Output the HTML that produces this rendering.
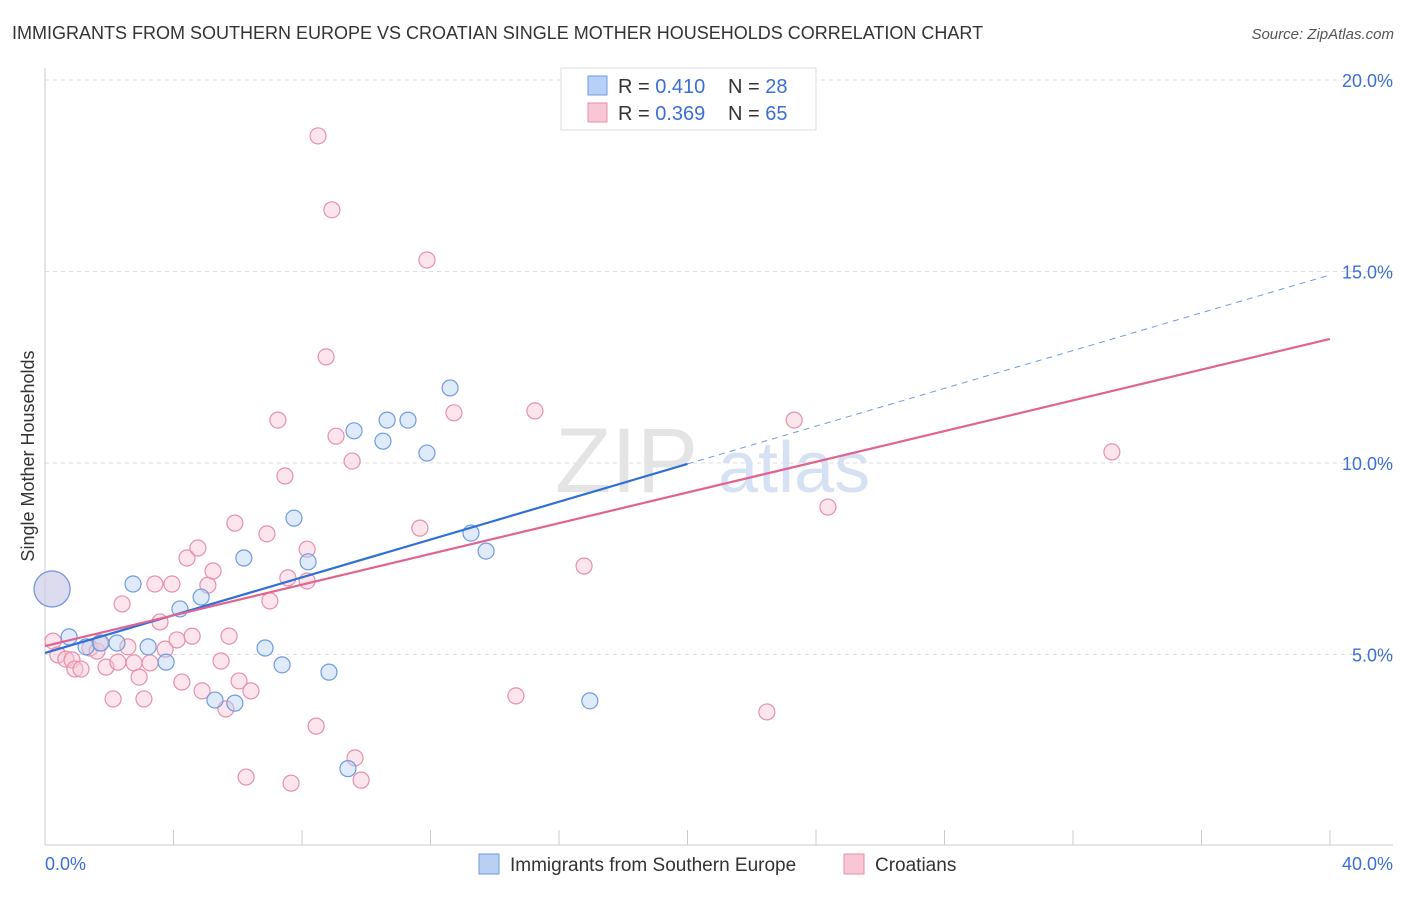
<!DOCTYPE html>
<html><head><meta charset="utf-8"><style>
body{margin:0;background:#fff;font-family:"Liberation Sans",sans-serif;}
svg text{font-family:"Liberation Sans",sans-serif;}
</style></head><body>
<svg id="c" width="1406" height="892" viewBox="0 0 1406 892" xmlns="http://www.w3.org/2000/svg">
<text x="12" y="39" font-size="18" fill="#333">IMMIGRANTS FROM SOUTHERN EUROPE VS CROATIAN SINGLE MOTHER HOUSEHOLDS CORRELATION CHART</text>
<text x="1394" y="39" font-size="15" fill="#555" font-style="italic" text-anchor="end">Source: ZipAtlas.com</text>
<g id="grid"></g>
<g><text x="555" y="492" font-size="92" fill="#e4e4e4" font-family="Liberation Serif">ZIP</text><text x="718" y="492" font-size="72" fill="#d6e2f3">atlas</text></g>
<line x1="45" y1="68" x2="45" y2="845" stroke="#ccc"/>
<line x1="45" y1="845" x2="1393" y2="845" stroke="#ccc"/>
<g id="xticks"></g>
<g id="yticks"></g>
<text x="45" y="870" font-size="18" fill="#3b6fd4">0.0%</text>
<text x="1393" y="870" font-size="18" fill="#3b6fd4" text-anchor="end">40.0%</text>
<text transform="translate(34,456) rotate(-90)" font-size="18" fill="#333" text-anchor="middle">Single Mother Households</text>
<g id="pts"></g>
<g id="lines"></g>
<g>
<rect x="561" y="68" width="255" height="62" fill="#fff" stroke="#ddd"/>
<rect x="588" y="76" width="19" height="19" fill="#b8d0f5" stroke="#6f9be0"/>
<rect x="588" y="103" width="19" height="19" fill="#f9c6d5" stroke="#e88fab"/>
<text x="618" y="93" font-size="20" fill="#333">R = <tspan fill="#3b6fd4">0.410</tspan><tspan x="728">N = </tspan><tspan fill="#3b6fd4">28</tspan></text>
<text x="618" y="120" font-size="20" fill="#333">R = <tspan fill="#3b6fd4">0.369</tspan><tspan x="728">N = </tspan><tspan fill="#3b6fd4">65</tspan></text>
</g>
<g>
<rect x="479" y="854" width="20" height="20" fill="#b8d0f5" stroke="#6f9be0"/>
<text x="510" y="871" font-size="19" fill="#333">Immigrants from Southern Europe</text>
<rect x="844" y="854" width="20" height="20" fill="#f9c6d5" stroke="#e88fab"/>
<text x="875" y="871" font-size="19" fill="#333">Croatians</text>
</g>
</svg>
<script>
const yTicks=[5,10,15,20];
const xTickVals=[0,4,8,12,16,20,24,28,32,36,40];
const blueX=[0.22,0.75,1.28,1.74,2.24,2.74,3.21,3.77,4.20,4.86,5.29,5.91,6.19,6.85,7.38,7.75,8.19,8.84,9.43,9.62,10.52,10.65,11.30,11.89,12.61,13.26,13.73,16.96];
const blueY=[6.71,5.46,5.20,5.30,5.30,6.84,5.20,4.80,6.19,6.50,3.81,3.73,7.52,5.17,4.73,8.56,7.42,4.54,2.02,10.84,10.57,11.12,11.12,10.26,11.96,8.17,7.70,3.79];
const pinkX=[0.22,0.25,0.40,0.65,0.84,0.93,1.12,1.40,1.62,1.71,1.90,2.12,2.27,2.40,2.58,2.77,2.93,3.08,3.27,3.42,3.58,3.74,3.95,4.11,4.26,4.42,4.58,4.76,4.89,5.07,5.23,5.48,5.63,5.73,5.91,6.04,6.26,6.41,6.91,7.00,7.25,7.47,7.66,7.56,8.16,8.16,8.44,8.50,8.75,8.93,9.06,9.56,9.65,9.84,11.67,11.89,12.73,14.66,15.25,16.78,22.47,23.32,24.37,33.21];
const pinkY=[6.71,5.35,4.99,4.88,4.86,4.62,4.62,5.17,5.09,5.30,4.67,3.84,4.80,6.32,5.20,4.78,4.41,3.84,4.78,6.84,5.85,5.14,6.84,5.38,4.28,7.52,5.48,7.78,4.05,6.81,7.18,4.83,3.58,5.48,8.43,4.31,1.80,4.05,8.15,6.40,11.12,9.66,1.64,7.00,7.75,6.92,3.13,18.54,12.77,16.61,10.70,10.05,2.30,1.72,8.30,15.30,11.31,3.92,11.36,7.31,3.50,11.12,8.85,10.29];
const blueFit=[5.04,14.91]; // value at x=0 and x=40
const pinkFit=[5.22,13.24];
const blueSolidEnd=[20];
const NS='http://www.w3.org/2000/svg';
const X=v=>45+v*32.125, Y=v=>846-v*38.3;
function mk(t,a,p){const e=document.createElementNS(NS,t);for(const k in a)e.setAttribute(k,a[k]);p.appendChild(e);return e;}
const grid=document.getElementById('grid'),yt=document.getElementById('yticks'),xt=document.getElementById('xticks');
yTicks.forEach(v=>{
 const l=mk('line',{x1:45,x2:1393,y1:Y(v),y2:Y(v),stroke:'#ddd','stroke-dasharray':'4,4'},grid);
 
 
 const t=mk('text',{x:1393,y:Y(v)+7,'font-size':18,fill:'#3b6fd4','text-anchor':'end'},yt);
 t.textContent=v.toFixed(1)+'%';
 
 
});
xTickVals.forEach(v=>{
 const l=mk('line',{x1:X(v),x2:X(v),y1:830,y2:845,stroke:'#ccc'},xt);
 
 
});
const pts=document.getElementById('pts');
function drawPts(xs,ys,fill,stroke,name){
 xs.forEach((x,i)=>{
  const r=i===0?18:8;
  const c=mk('circle',{cx:X(x),cy:Y(ys[i]),r:r,fill:fill,'fill-opacity':0.45,stroke:stroke,'stroke-width':1.2},pts);
  
  
 });
}
drawPts(pinkX,pinkY,'#f9c6d5','#e88fab','croatians');
drawPts(blueX,blueY,'#b8d0f5','#6f9be0','immigrants');
const ln=document.getElementById('lines');
const f=(fit,x)=>fit[0]+(fit[1]-fit[0])*x/40;
let a=mk('line',{x1:X(0),y1:Y(f(blueFit,0)),x2:X(blueSolidEnd[0]),y2:Y(f(blueFit,blueSolidEnd[0])),stroke:'#2f6fd6','stroke-width':2.2},ln);


a=mk('line',{x1:X(blueSolidEnd[0]),y1:Y(f(blueFit,blueSolidEnd[0])),x2:X(40),y2:Y(f(blueFit,40)),stroke:'#6f9be0','stroke-width':1,'stroke-dasharray':'6,5'},ln);


a=mk('line',{x1:X(0),y1:Y(f(pinkFit,0)),x2:X(40),y2:Y(f(pinkFit,40)),stroke:'#e0648f','stroke-width':2.2},ln);


</script>
</body></html>
